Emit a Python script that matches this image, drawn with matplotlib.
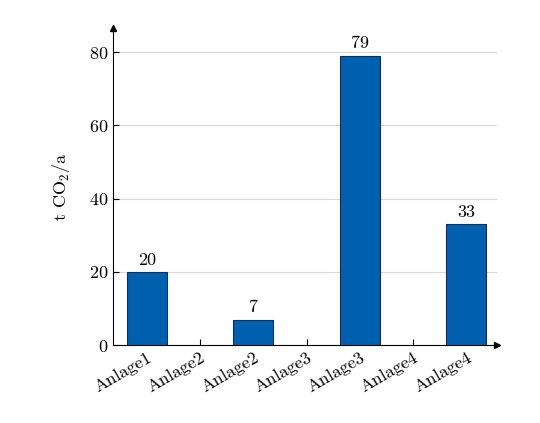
import matplotlib
matplotlib.use("Agg")
import matplotlib.pyplot as plt

tick_labels = ["Anlage1", "Anlage2", "Anlage2", "Anlage3", "Anlage3", "Anlage4", "Anlage4"]
bar_positions = [0, 2, 4, 6]
values = [20, 7, 79, 33]

plt.rcParams['font.family'] = ['cmr10', 'DejaVu Serif']
plt.rcParams['mathtext.fontset'] = 'cm'
plt.rcParams['axes.formatter.use_mathtext'] = True

fig = plt.figure(figsize=(5.4, 4.23), dpi=100)
ax = fig.add_axes([0.209, 0.184, 0.711, 0.75])
ax.bar(bar_positions, values, width=0.75, color="#0060b0", edgecolor="#1a2a4a", linewidth=0.8, zorder=3)
for x, v in zip(bar_positions, values):
    ax.text(x, v + 1.2, str(v), ha="center", va="bottom", fontsize=13)
ax.set_xlim(-0.64, 6.57)
ax.set_ylim(0, 86.6)
ax.set_xticks(range(len(tick_labels)))
ax.set_xticklabels(tick_labels, rotation=30, ha="right", rotation_mode="anchor", fontsize=13)
ax.set_yticks([0, 20, 40, 60, 80])
ax.tick_params(axis='y', labelsize=13, direction='in', length=4)
ax.tick_params(axis='x', direction='in', length=4)
ax.grid(axis='y', color="#d8d8d8", linewidth=0.8, zorder=0)
for s in ["top", "right"]:
    ax.spines[s].set_visible(False)
ax.plot(1, 0, ">k", transform=ax.transAxes, clip_on=False, markersize=4)
ax.plot(0, 1, "^k", transform=ax.transAxes, clip_on=False, markersize=4)
ax.set_ylabel(r"t CO$_2$/a", fontsize=13, labelpad=12)
fig.savefig("out.png", dpi=100)
